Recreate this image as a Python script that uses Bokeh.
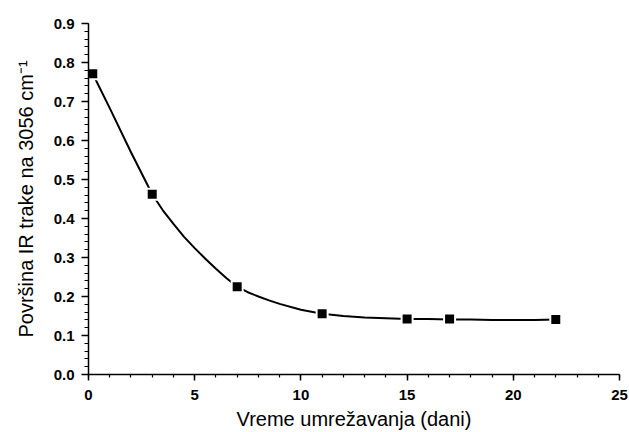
from bokeh.plotting import figure
from bokeh.models import Range1d, SingleIntervalTicker, PrintfTickFormatter
from bokeh.embed import file_html
from bokeh.resources import INLINE

# measured points
days = [0.2, 3, 7, 11, 15, 17, 22]
area = [0.771, 0.462, 0.225, 0.156, 0.142, 0.142, 0.141]

# fitted curve
curve_x = [0.2, 1, 2, 3, 3.5, 4, 4.5, 5, 5.5, 6, 6.5, 7, 7.5, 8, 8.5, 9, 10, 11,
           12, 13, 14, 15, 16, 17, 18, 19, 20, 21, 22]
curve_y = [0.771, 0.683, 0.570, 0.462, 0.421, 0.386, 0.353, 0.324, 0.297, 0.271,
           0.247, 0.225, 0.211, 0.200, 0.190, 0.181, 0.166, 0.156, 0.150, 0.146,
           0.144, 0.142, 0.142, 0.141, 0.141, 0.140, 0.140, 0.140, 0.141]

x_label = "Vreme umrežavanja (dani)"
y_label = "Površina IR trake na 3056 cm⁻¹"

FONT = "Liberation Sans"

p = figure(width=629, height=432, x_range=Range1d(0, 25), y_range=Range1d(0, 0.9),
           output_backend="svg", toolbar_location=None,
           min_border_left=88, min_border_right=10, min_border_top=23, min_border_bottom=58)
p.outline_line_color = None
p.grid.visible = False
p.background_fill_color = "white"
p.border_fill_color = "white"

p.xaxis.ticker = SingleIntervalTicker(interval=5, num_minor_ticks=5)
p.yaxis.ticker = SingleIntervalTicker(interval=0.1, num_minor_ticks=5)
p.yaxis.formatter = PrintfTickFormatter(format="%.1f")

for ax in (p.xaxis, p.yaxis):
    ax.axis_line_width = 1.5
    ax.axis_line_color = "black"
    ax.major_tick_line_width = 1.5
    ax.minor_tick_line_width = 1.2
    ax.major_tick_line_color = "black"
    ax.minor_tick_line_color = "black"
    ax.major_tick_in = 0
    ax.minor_tick_in = 0
    ax.major_label_text_font = FONT
    ax.major_label_text_font_style = "bold"
    ax.major_label_text_font_size = "15px"
    ax.major_label_text_color = "black"
    ax.axis_label_text_font = FONT
    ax.axis_label_text_font_style = "normal"
    ax.axis_label_text_font_size = "20px"
    ax.axis_label_text_color = "black"

p.xaxis.axis_label = x_label
p.yaxis.axis_label = y_label

p.xaxis.major_tick_out = 6
p.xaxis.minor_tick_out = 3
p.xaxis.major_label_standoff = 9
p.xaxis.axis_label_standoff = 5
p.yaxis.major_tick_out = 7
p.yaxis.minor_tick_out = 4
p.yaxis.major_label_standoff = 7
p.yaxis.axis_label_standoff = 14

p.line(curve_x, curve_y, line_color="black", line_width=2, line_join="round")
p.scatter(days, area, marker="square", size=13, fill_color="white", line_color=None)
p.scatter(days, area, marker="square", size=9, fill_color="black", line_color=None)

open("out.html", "w").write(file_html(p, INLINE))
